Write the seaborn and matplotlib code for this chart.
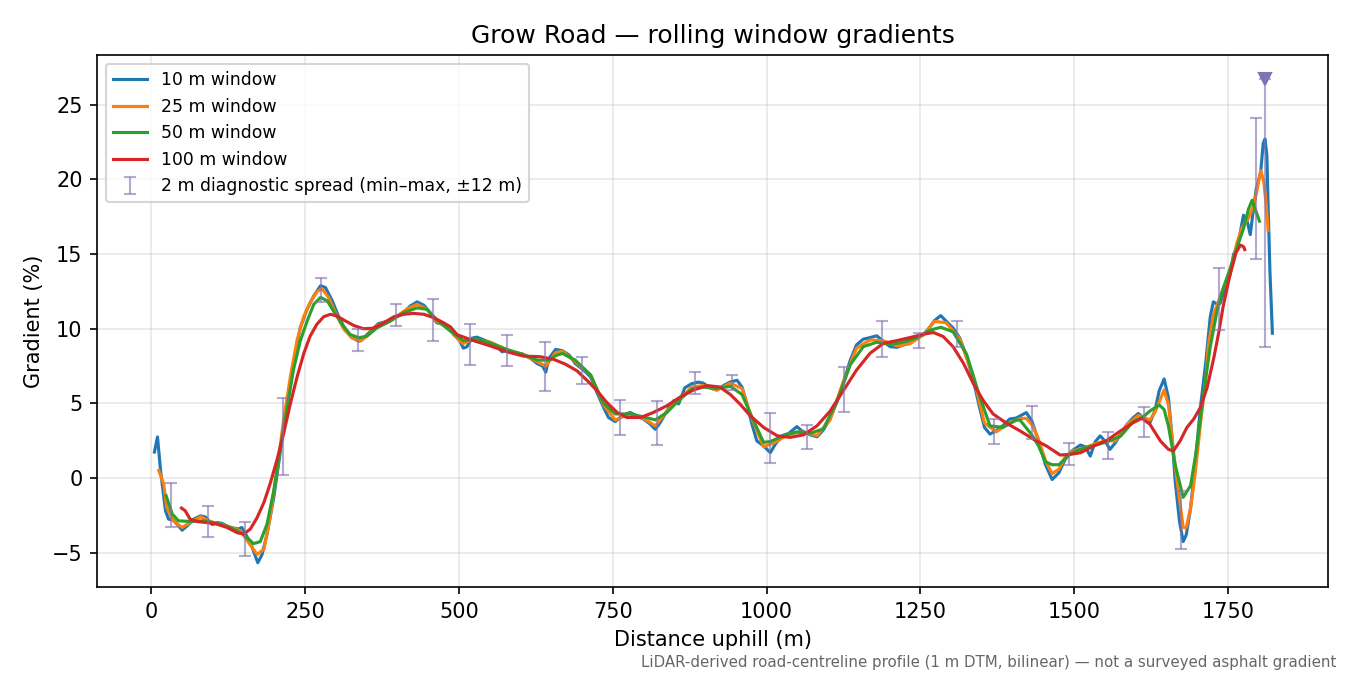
import numpy as np
import pandas as pd
import matplotlib
matplotlib.use("Agg")
import matplotlib.pyplot as plt
import seaborn as sns

# rolling-window gradients (distance m, gradient %)
d10 = [5, 10, 15, 23, 28, 36, 50, 58, 69, 80, 88, 99, 107, 115, 128, 142, 147, 155, 164, 173,
       180, 188, 199, 210, 220, 231, 242, 253, 264, 275, 283, 294, 304, 315, 326, 337, 348, 359,
       369, 383, 394, 407, 421, 432, 443, 453, 464, 475, 486, 491, 502, 507, 513, 521, 529, 540,
       551, 562, 570, 578, 589, 603, 617, 627, 636, 641, 646, 657, 668, 679, 689, 703, 714, 724,
       735, 743, 754, 765, 778, 789, 800, 811, 819, 827, 838, 849, 857, 867, 878, 889, 897, 908,
       919, 930, 941, 952, 960, 968, 976, 984, 995, 1006, 1014, 1025, 1036, 1049, 1057, 1071,
       1082, 1092, 1103, 1114, 1125, 1136, 1146, 1157, 1168, 1179, 1190, 1201, 1212, 1222, 1233,
       1244, 1255, 1265, 1273, 1283, 1292, 1303, 1314, 1325, 1336, 1346, 1354, 1363, 1373, 1384,
       1395, 1406, 1412, 1422, 1431, 1442, 1453, 1464, 1475, 1485, 1496, 1510, 1518, 1526, 1534,
       1542, 1550, 1558, 1567, 1575, 1586, 1596, 1604, 1612, 1623, 1631, 1638, 1646, 1653, 1659,
       1664, 1671, 1677, 1682, 1689, 1697, 1705, 1714, 1721, 1726, 1730, 1737, 1745, 1753, 1759,
       1765, 1770, 1775, 1781, 1786, 1792, 1796, 1803, 1807, 1810, 1813, 1815, 1818, 1822]
g10 = [1.75, 2.76, 0.5, -2.18, -2.74, -2.8, -3.48, -3.2, -2.74, -2.52, -2.6, -3.1, -2.97, -3.03,
       -3.3, -3.4, -3.3, -3.87, -4.65, -5.66, -5.1, -3.75, -1.28, 1.87, 5.0, 7.7, 10.07, 11.3,
       12.2, 12.88, 12.76, 11.87, 10.85, 9.96, 9.4, 9.17, 9.5, 9.96, 10.34, 10.5, 10.74, 10.97,
       11.53, 11.8, 11.57, 11.08, 10.4, 10.3, 9.96, 9.7, 9.14, 8.7, 8.8, 9.37, 9.44, 9.26, 9.07,
       8.8, 8.46, 8.58, 8.4, 8.31, 8.0, 7.67, 7.5, 7.1, 8.0, 8.62, 8.53, 8.24, 7.67, 7.22, 6.77,
       5.76, 4.74, 4.06, 3.79, 4.18, 4.4, 4.18, 3.95, 3.61, 3.27, 3.72, 4.51, 5.19, 4.97, 6.05,
       6.32, 6.43, 6.36, 6.05, 5.9, 6.2, 6.44, 6.55, 6.1, 4.98, 3.63, 2.5, 2.16, 1.71, 2.27, 2.84,
       3.0, 3.45, 3.18, 2.9, 2.77, 3.22, 3.96, 5.09, 6.44, 7.9, 8.92, 9.3, 9.41, 9.53, 9.14, 8.8,
       8.76, 8.92, 9.03, 9.37, 9.6, 10.1, 10.56, 10.88, 10.5, 10.05, 9.37, 8.13, 6.55, 4.75, 3.4,
       2.95, 3.18, 3.51, 3.96, 4.03, 4.17, 4.39, 3.83, 2.49, 0.92, -0.09, 0.36, 1.26, 1.82, 2.22,
       2.09, 1.48, 2.44, 2.83, 2.49, 1.93, 2.38, 2.94, 3.61, 4.06, 4.33, 4.06, 3.72, 4.51, 5.85,
       6.64, 5.4, 2.71, -0.2, -2.89, -4.24, -3.79, -2.0, 1.14, 4.73, 7.87, 10.8, 11.8, 11.7,
       11.7, 12.7, 13.6, 15.0, 15.4, 16.5, 17.6, 17.2, 16.3, 18.3, 19.4, 20.5, 22.4, 22.7, 21.6,
       18.3, 13.8, 9.7]

d25 = [12, 20, 25, 36, 50, 63, 80, 96, 112, 128, 145, 158, 172, 183, 193, 204, 215, 226, 237,
       248, 258, 269, 277, 288, 299, 313, 326, 340, 353, 367, 383, 399, 415, 432, 448, 464, 486,
       491, 507, 521, 551, 578, 603, 627, 641, 657, 668, 689, 714, 735, 754, 778, 800, 819, 838,
       857, 878, 897, 919, 941, 960, 976, 995, 1014, 1036, 1057, 1082, 1103, 1125, 1146, 1168,
       1190, 1212, 1233, 1255, 1273, 1292, 1314, 1336, 1354, 1373, 1395, 1412, 1422, 1431, 1442,
       1453, 1464, 1475, 1485, 1496, 1518, 1534, 1550, 1567, 1586, 1604, 1623, 1631, 1638, 1646,
       1653, 1664, 1677, 1682, 1689, 1697, 1705, 1714, 1718, 1726, 1734, 1742, 1753, 1764, 1772,
       1783, 1792, 1798, 1803, 1808, 1812, 1815]
g25 = [0.52, -0.38, -1.96, -2.85, -3.3, -2.97, -2.58, -2.9, -3.08, -3.26, -3.53, -4.31, -5.1,
       -4.76, -2.63, 0.52, 3.89, 6.8, 9.28, 10.85, 11.75, 12.47, 12.7, 12.1, 11.08, 9.96, 9.4,
       9.17, 9.6, 10.2, 10.5, 10.85, 11.3, 11.64, 11.3, 10.5, 9.96, 9.6, 9.0, 9.3, 9.1, 8.6, 8.3,
       7.8, 7.5, 8.4, 8.5, 7.8, 6.9, 4.9, 3.9, 4.3, 4.0, 3.5, 4.5, 5.2, 6.1, 6.2, 5.9, 6.35, 6.0,
       4.0, 2.1, 2.4, 2.95, 3.1, 2.85, 3.9, 6.5, 8.7, 9.25, 9.2, 8.85, 9.0, 9.6, 10.5, 10.4, 9.3,
       6.8, 3.7, 3.1, 3.7, 4.0, 4.0, 3.6, 2.6, 1.2, 0.3, 0.6, 1.4, 1.8, 2.05, 2.3, 2.5, 2.5, 3.6,
       4.2, 3.9, 4.4, 5.1, 5.9, 4.9, 0.8, -3.3, -3.3, -2.0, 0.5, 3.6, 6.8, 8.9, 10.9, 11.8, 12.7,
       13.6, 15.7, 16.7, 17.4, 18.3, 19.5, 20.6, 19.8, 18.3, 16.6]

d50 = [24, 34, 44, 63, 85, 107, 128, 150, 166, 177, 188, 199, 210, 221, 231, 242, 253, 264, 275,
       286, 296, 310, 323, 337, 350, 367, 388, 410, 432, 448, 464, 486, 507, 529, 551, 578, 603,
       627, 646, 657, 668, 689, 714, 735, 754, 778, 800, 819, 838, 857, 878, 897, 919, 941, 960,
       976, 995, 1006, 1025, 1049, 1071, 1092, 1114, 1136, 1157, 1179, 1201, 1222, 1244, 1265,
       1283, 1303, 1325, 1346, 1363, 1384, 1406, 1412, 1431, 1442, 1453, 1464, 1475, 1485, 1496,
       1518, 1534, 1550, 1575, 1596, 1612, 1623, 1638, 1646, 1653, 1664, 1677, 1689, 1697, 1705,
       1714, 1721, 1732, 1742, 1753, 1764, 1775, 1783, 1789, 1794, 1801]
g50 = [-1.17, -2.4, -2.85, -2.9, -2.85, -3.03, -3.3, -3.75, -4.38, -4.25, -3.08, -0.83, 2.09,
       4.79, 7.26, 9.17, 10.5, 11.64, 12.1, 11.87, 11.19, 10.3, 9.62, 9.4, 9.5, 10.07, 10.5,
       11.08, 11.4, 11.3, 10.6, 9.84, 9.2, 9.3, 9.05, 8.6, 8.3, 7.9, 7.9, 8.2, 8.35, 7.9, 6.9,
       5.0, 4.3, 4.3, 4.1, 3.9, 4.4, 5.2, 5.95, 6.1, 6.0, 6.15, 5.6, 4.1, 2.4, 2.45, 2.8, 3.1,
       3.0, 3.3, 5.1, 7.6, 8.8, 9.1, 8.95, 9.1, 9.4, 9.9, 10.1, 9.8, 8.3, 5.5, 3.5, 3.4, 3.9,
       3.88, 2.9, 2.15, 1.1, 0.9, 0.9, 1.3, 1.7, 2.05, 2.2, 2.4, 2.8, 3.8, 4.1, 4.5, 4.9, 4.6,
       3.5, 0.9, -1.28, -0.5, 1.5, 4.0, 6.8, 8.8, 11.2, 12.7, 14.0, 15.4, 16.7, 18.0, 18.6, 18.0,
       17.2]

d100 = [49, 55, 63, 74, 90, 107, 123, 139, 150, 161, 172, 183, 193, 204, 215, 226, 237, 248,
        258, 269, 280, 291, 302, 313, 329, 345, 361, 378, 394, 410, 426, 443, 459, 475, 486, 497,
        524, 551, 578, 605, 632, 654, 673, 692, 708, 724, 740, 757, 773, 795, 816, 838, 859, 881,
        903, 924, 941, 957, 973, 995, 1017, 1038, 1060, 1082, 1103, 1125, 1146, 1168, 1190, 1212,
        1233, 1255, 1271, 1287, 1303, 1320, 1336, 1352, 1368, 1390, 1412, 1434, 1455, 1477, 1493,
        1510, 1531, 1553, 1575, 1596, 1610, 1623, 1640, 1653, 1661, 1672, 1683, 1694, 1705, 1716,
        1727, 1735, 1742, 1753, 1763, 1770, 1775, 1777]
g100 = [-2.0, -2.18, -2.74, -2.9, -2.97, -3.08, -3.3, -3.64, -3.75, -3.4, -2.63, -1.62, -0.38,
        1.19, 2.99, 5.0, 6.8, 8.38, 9.5, 10.3, 10.8, 10.97, 10.85, 10.58, 10.22, 10.0, 10.04,
        10.4, 10.8, 10.97, 11.03, 10.97, 10.74, 10.4, 10.13, 9.6, 9.2, 8.85, 8.46, 8.17, 8.13,
        7.95, 7.63, 7.18, 6.55, 5.87, 5.08, 4.4, 4.06, 4.06, 4.4, 4.85, 5.42, 5.9, 6.2, 6.1, 5.6,
        4.95, 4.19, 3.4, 2.84, 2.73, 2.9, 3.51, 4.48, 5.88, 7.23, 8.36, 9.03, 9.21, 9.41, 9.64,
        9.75, 9.48, 8.8, 7.68, 6.33, 5.2, 4.3, 3.67, 3.16, 2.6, 2.15, 1.55, 1.59, 1.7, 2.15, 2.53,
        3.16, 3.72, 4.01, 3.6, 2.49, 1.93, 1.82, 2.49, 3.39, 3.95, 4.73, 6.08, 8.1, 9.8, 11.5,
        13.6, 15.1, 15.6, 15.5, 15.3]

# 2 m diagnostic spread: min / max within +-12 m
spread_x = [32, 92, 153, 214, 275, 336, 397, 458, 518, 578, 640, 700, 762, 822, 884, 944, 1006,
            1066, 1126, 1188, 1248, 1309, 1370, 1431, 1492, 1554, 1614, 1674, 1736, 1795, 1810]
spread_lo = [-3.3, -3.91, -5.21, 0.18, 11.8, 8.49, 10.18, 9.17, 7.56, 7.49, 5.82, 6.3, 2.91,
             2.23, 5.62, 5.87, 1.04, 1.98, 4.41, 8.13, 8.74, 8.76, 2.27, 2.6, 0.87, 1.3, 2.76,
             -4.75, 9.93, 14.64, 8.76]
spread_hi = [-0.34, -1.84, -2.9, 5.39, 13.39, 9.96, 11.64, 11.98, 10.34, 9.55, 9.14, 8.13, 5.24,
             5.15, 7.11, 6.88, 4.37, 3.58, 7.41, 10.54, 9.71, 10.54, 3.96, 4.84, 2.38, 3.12, 4.78,
             -0.83, 14.04, 24.09, 26.7]
# spread that runs off the top of the axes
clip_x = [1810]
clip_y = [26.7]

series = [
    ("10 m window", d10, g10, "#1f77b4"),
    ("25 m window", d25, g25, "#ff7f0e"),
    ("50 m window", d50, g50, "#2ca02c"),
    ("100 m window", d100, g100, "#d62728"),
]

fig, ax = plt.subplots(figsize=(9, 4.5), dpi=150)

for label, xs, ys, col in series:
    df = pd.DataFrame({"dist": xs, "grad": ys})
    sns.lineplot(data=df, x="dist", y="grad", color=col, lw=1.5, label=label,
                 estimator=None, sort=False, ax=ax)

lo = np.array(spread_lo)
hi = np.array(spread_hi)
ax.errorbar(spread_x, lo, yerr=[np.zeros_like(lo), hi - lo], fmt="none",
            ecolor="#8172b3", alpha=0.6, elinewidth=1, capsize=3,
            label="2 m diagnostic spread (min–max, ±12 m)")
ax.plot(clip_x, clip_y, marker="v", ls="none", color="#8172b3", ms=6)

ax.set_xlim(-88, 1913)
ax.set_ylim(-7.3, 28.3)
ax.grid(True, alpha=0.3)
ax.set_title("Grow Road — rolling window gradients")
ax.set_xlabel("Distance uphill (m)")
ax.set_ylabel("Gradient (%)")
ax.legend(loc="upper left", fontsize=8.3)

fig.text(0.99, 0.008, "LiDAR-derived road-centreline profile (1 m DTM, bilinear) — not a surveyed asphalt gradient",
         ha="right", va="bottom", fontsize=7.2, color="0.4")

fig.subplots_adjust(left=0.072, right=0.984, top=0.918, bottom=0.13)
fig.savefig("out.png", dpi=150)
